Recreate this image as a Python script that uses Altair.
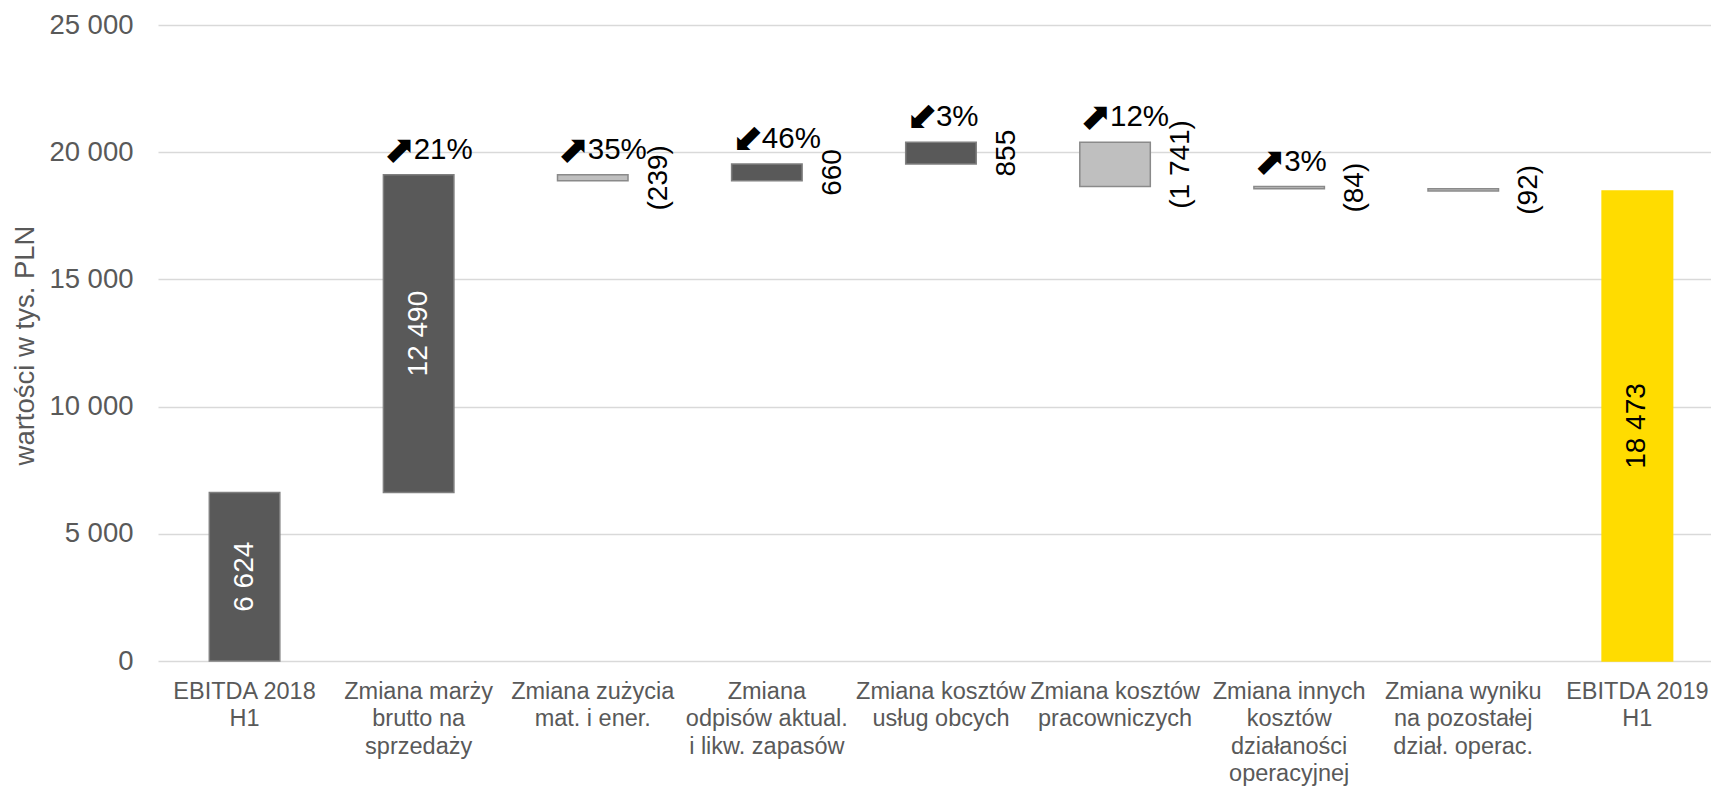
import altair as alt
import pandas as pd

categories = [
    "EBITDA 2018|H1",
    "Zmiana marży|brutto na|sprzedaży",
    "Zmiana zużycia|mat. i ener.",
    "Zmiana|odpisów aktual.|i likw. zapasów",
    "Zmiana kosztów|usług obcych",
    "Zmiana kosztów|pracowniczych",
    "Zmiana innych|kosztów|działaności|operacyjnej",
    "Zmiana wyniku|na pozostałej|dział. operac.",
    "EBITDA 2019|H1",
]
values = [6624, 12490, -239, 660, 855, -1741, -84, -92, 18473]
kinds = ["start", "delta", "delta", "delta", "delta", "delta", "delta", "delta", "end"]
arrows = ["", "⬈", "⬈", "⬋", "⬋", "⬈", "⬈", "", ""]
pct_labels = ["", "21%", "35%", "46%", "3%", "12%", "3%", "", ""]
y_ticks = [0, 5000, 10000, 15000, 20000, 25000]


def fmt(v):
    s = f"{abs(v):,}".replace(",", " ")
    return f"({s})" if v < 0 else s


rows = []
running = 0
for c, v, k, a, p in zip(categories, values, kinds, arrows, pct_labels):
    if k == "start":
        s, e = 0, v
        running = v
    elif k == "delta":
        s, e = running, running + v
        running = e
    else:
        s, e = 0, v
    if k == "end":
        shade = "yellow"
    elif v < 0:
        shade = "light"
    else:
        shade = "dark"
    rows.append(dict(cat=c, start=s, end=e, mid=(s + e) / 2, top=max(s, e),
                     label=fmt(v), kind=k, shade=shade, arrow=a, pct=p,
                     inside=abs(v) > 5000))
df = pd.DataFrame(rows)

FONT = "Liberation Sans"
GRAY = "#595959"

x_enc = alt.X(
    "cat:N", sort=categories,
    scale=alt.Scale(paddingInner=0.595, paddingOuter=0.2576, align=0.572),
    axis=alt.Axis(title=None, labelExpr="split(datum.label, '|')", labelAngle=0,
                  labelFontSize=23.5, labelLineHeight=27.5, labelColor=GRAY,
                  labelFont=FONT, labelPadding=18, ticks=False, tickSize=0,
                  domain=False, labelOverlap=False, labelBound=False,
                  labelFlush=False, labelLimit=0, labelBaseline="top"),
)
y_scale = alt.Scale(domain=[0, 25000], nice=False)

base = alt.Chart(df)

bars = base.mark_bar(strokeWidth=1.5).encode(
    x=x_enc,
    y=alt.Y("start:Q", scale=y_scale,
            axis=alt.Axis(values=y_ticks,
                          labelExpr="replace(format(datum.value, ','), ',', ' ')",
                          labelFontSize=27.5, labelColor=GRAY, labelFont=FONT,
                          labelPadding=25, ticks=False, tickSize=0, domain=False,
                          grid=True, gridColor="#d9d9d9", gridWidth=1.5,
                          title="wartości w tys. PLN", titleFontSize=27.5,
                          titleFont=FONT, titleColor=GRAY, titleFontWeight="normal",
                          titleX=-125, titleY=320, titleAngle=270,
                          titleBaseline="alphabetic", titleAlign="center")),
    y2="end:Q",
    fill=alt.Fill("shade:N", scale=alt.Scale(domain=["dark", "light", "yellow"],
                                             range=["#595959", "#bfbfbf", "#ffdc00"]),
                  legend=None),
    stroke=alt.Stroke("shade:N", scale=alt.Scale(domain=["dark", "light", "yellow"],
                                                 range=["#7f7f7f", "#8a8a8a", "#ffdc00"]),
                      legend=None),
)

outside = base.transform_filter("!datum.inside").mark_text(
    angle=270, fontSize=28, font=FONT, color="black", baseline="middle",
    align="center", xOffset=66,
).encode(x=alt.X("cat:N", sort=categories), y=alt.Y("mid:Q", scale=y_scale), text="label:N")

inside = base.transform_filter("datum.inside").mark_text(
    angle=270, fontSize=28, font=FONT, baseline="middle", align="center",
).encode(
    x=alt.X("cat:N", sort=categories), y=alt.Y("mid:Q", scale=y_scale), text="label:N",
    color=alt.condition("datum.kind == 'end'", alt.value("black"), alt.value("white")),
)

arrow_layer = base.transform_filter("datum.arrow != ''").mark_text(
    align="left", baseline="alphabetic", fontSize=38, font="DejaVu Sans", color="black",
    dy=-13, xOffset=-35,
).encode(x=alt.X("cat:N", sort=categories), y=alt.Y("top:Q", scale=y_scale), text="arrow:N")

pct = base.transform_filter("datum.pct != ''").mark_text(
    align="left", baseline="alphabetic", fontSize=29.5, font=FONT, color="black",
    dy=-16, xOffset=-5,
).encode(x=alt.X("cat:N", sort=categories), y=alt.Y("top:Q", scale=y_scale), text="pct:N")

chart = alt.layer(bars, outside, inside, arrow_layer, pct).properties(
    width=1553, height=636,
    background="white",
    autosize=alt.AutoSizeParams(type="none"),
    padding={"left": 158, "top": 25, "right": 0, "bottom": 125},
).configure_view(stroke=None)

chart.save("out.html", embed_options={"renderer": "svg", "actions": False})
